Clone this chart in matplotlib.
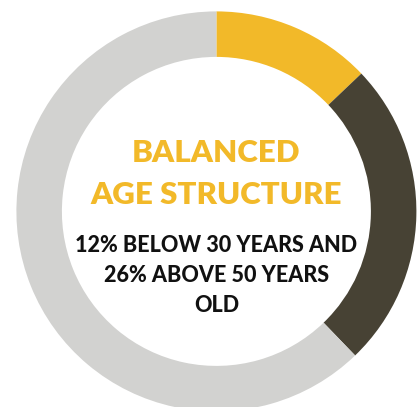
import matplotlib
matplotlib.use("Agg")
import matplotlib.pyplot as plt

# shares (clockwise from 12 o'clock)
labels = ["Below 30 years", "Above 50 years", "30 to 50 years"]
shares = [12.9, 24.9, 62.2]
colors = ["#F2B929", "#474234", "#D2D2D0"]

title_lines = ["BALANCED", "AGE STRUCTURE"]
sub_lines = ["12% BELOW 30 YEARS AND", "26% ABOVE 50 YEARS", "OLD"]

W, H = 420, 407
fig = plt.figure(figsize=(W / 100, H / 100), dpi=100)
ax = fig.add_axes([0, 0, 1, 1])

cx, cy = 216.4, H - 211.4
outer = 200
ax.pie(shares, colors=colors, startangle=90, counterclock=False,
       radius=outer, center=(cx, cy),
       wedgeprops=dict(width=45.5, linewidth=0))
ax.set_xlim(0, W)
ax.set_ylim(0, H)
ax.set_aspect("equal")
ax.axis("off")

for i, line in enumerate(title_lines):
    ax.text(cx, H - (153 + 42 * i), line, ha="center", va="center",
            fontsize=22.5, fontweight="heavy", color="#F2B929", family="Lato")
for i, line in enumerate(sub_lines):
    ax.text(cx, H - (245 + 30 * i), line, ha="center", va="center",
            fontsize=15.5, fontweight="black", color="#111111", family="Lato")

fig.savefig("out.png", dpi=100)
